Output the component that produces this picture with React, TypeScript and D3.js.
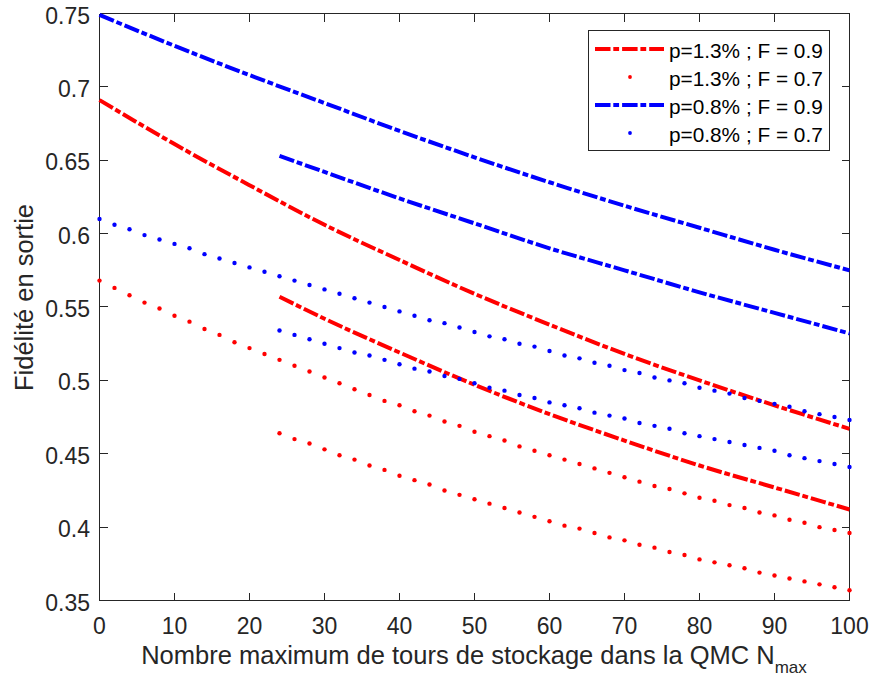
import React from 'react';
import * as d3 from 'd3';

const W = 870;
const H = 684;

// x positions
const X_TICKS = [0, 10, 20, 30, 40, 50, 60, 70, 80, 90, 100];
const Y_TICKS = [0.35, 0.4, 0.45, 0.5, 0.55, 0.6, 0.65, 0.7, 0.75];
const Y_TICK_LABELS = ['0.35', '0.4', '0.45', '0.5', '0.55', '0.6', '0.65', '0.7', '0.75'];

const X_LINE_A = [0, 10, 20, 30, 40, 50, 60, 70, 80, 90, 100];
const X_LINE_B = [24, 30, 40, 50, 60, 70, 80, 90, 100];
const X_DOT_A = [0, 2, 4, 6, 8, 10, 12, 14, 16, 18, 20, 22, 24, 26, 28, 30, 32, 34, 36, 38, 40, 42, 44, 46, 48, 50,
  52, 54, 56, 58, 60, 62, 64, 66, 68, 70, 72, 74, 76, 78, 80, 82, 84, 86, 88, 90, 92, 94, 96, 98, 100];
const X_DOT_B = [24, 26, 28, 30, 32, 34, 36, 38, 40, 42, 44, 46, 48, 50, 52, 54, 56, 58, 60, 62, 64, 66, 68, 70,
  72, 74, 76, 78, 80, 82, 84, 86, 88, 90, 92, 94, 96, 98, 100];

// p=1.3% ; F = 0.9 (dash-dot, red)
const RED_F09_A = [0.691, 0.661, 0.633, 0.606, 0.582, 0.559, 0.538, 0.518, 0.500, 0.483, 0.467];
const RED_F09_B = [0.557, 0.542, 0.519, 0.497, 0.477, 0.459, 0.442, 0.427, 0.412];
// p=1.3% ; F = 0.7 (dotted, red)
const RED_F07_A = [0.568, 0.563, 0.558, 0.553, 0.549, 0.544, 0.540, 0.535, 0.531, 0.526, 0.522, 0.518, 0.514, 0.510,
  0.506, 0.502, 0.498, 0.494, 0.490, 0.486, 0.483, 0.479, 0.476, 0.472, 0.469, 0.465, 0.462, 0.459, 0.455, 0.452,
  0.449, 0.446, 0.443, 0.440, 0.437, 0.434, 0.431, 0.428, 0.426, 0.423, 0.420, 0.418, 0.415, 0.413, 0.410, 0.408,
  0.405, 0.403, 0.400, 0.398, 0.396];
const RED_F07_B = [0.464, 0.460, 0.457, 0.453, 0.449, 0.446, 0.442, 0.439, 0.435, 0.432, 0.429, 0.425, 0.422, 0.419,
  0.416, 0.413, 0.410, 0.407, 0.404, 0.401, 0.399, 0.396, 0.393, 0.391, 0.388, 0.386, 0.383, 0.381, 0.378, 0.376,
  0.374, 0.372, 0.369, 0.367, 0.365, 0.363, 0.361, 0.359, 0.357];
// p=0.8% ; F = 0.9 (dash-dot, blue)
const BLUE_F09_A = [0.749, 0.728, 0.708, 0.689, 0.670, 0.652, 0.635, 0.619, 0.604, 0.589, 0.575];
const BLUE_F09_B = [0.653, 0.642, 0.624, 0.607, 0.590, 0.575, 0.560, 0.546, 0.532];
// p=0.8% ; F = 0.7 (dotted, blue)
const BLUE_F07_A = [0.610, 0.606, 0.603, 0.599, 0.596, 0.593, 0.590, 0.586, 0.583, 0.580, 0.577, 0.574, 0.571, 0.568,
  0.565, 0.562, 0.559, 0.556, 0.553, 0.550, 0.547, 0.544, 0.541, 0.539, 0.536, 0.533, 0.530, 0.528, 0.525, 0.523,
  0.520, 0.517, 0.515, 0.512, 0.510, 0.507, 0.505, 0.502, 0.500, 0.498, 0.495, 0.493, 0.491, 0.488, 0.486, 0.484,
  0.482, 0.479, 0.477, 0.475, 0.473];
const BLUE_F07_B = [0.534, 0.531, 0.528, 0.525, 0.522, 0.519, 0.517, 0.514, 0.511, 0.508, 0.506, 0.503, 0.501, 0.498,
  0.495, 0.493, 0.490, 0.488, 0.485, 0.483, 0.481, 0.478, 0.476, 0.474, 0.471, 0.469, 0.467, 0.464, 0.462, 0.460,
  0.458, 0.456, 0.454, 0.452, 0.449, 0.447, 0.445, 0.443, 0.441];

const LEGEND_LABELS = ['p=1.3% ; F = 0.9', 'p=1.3% ; F = 0.7', 'p=0.8% ; F = 0.9', 'p=0.8% ; F = 0.7'];

const RED = '#ff0000';
const BLUE = '#0000ff';
const AX = '#262626';
const FONT = "'Liberation Sans', Arial, Helvetica, sans-serif";
const DASHDOT = '15.5 2.8 5.8 3';

export default function App() {
  const x = d3.scaleLinear().domain([0, 100]).range([99.5, 849.5]);
  const y = d3.scaleLinear().domain([0.35, 0.75]).range([600.5, 13.5]);
  const line = d3
    .line<[number, number]>()
    .x((d) => x(d[0]))
    .y((d) => y(d[1]))
    .curve(d3.curveMonotoneX);
  const zip = (xs: number[], ys: number[]) => xs.map((v, i) => [v, ys[i]] as [number, number]);
  const crisp = (v: number) => Math.round(v - 0.5) + 0.5;

  const lines = [
    { xs: X_LINE_A, ys: RED_F09_A, c: RED },
    { xs: X_LINE_B, ys: RED_F09_B, c: RED },
    { xs: X_LINE_A, ys: BLUE_F09_A, c: BLUE },
    { xs: X_LINE_B, ys: BLUE_F09_B, c: BLUE },
  ];
  const dots = [
    { xs: X_DOT_A, ys: RED_F07_A, c: RED },
    { xs: X_DOT_B, ys: RED_F07_B, c: RED },
    { xs: X_DOT_A, ys: BLUE_F07_A, c: BLUE },
    { xs: X_DOT_B, ys: BLUE_F07_B, c: BLUE },
  ];
  const [x0, x1] = x.range();
  const [yb, yt] = y.range();

  const legendRows = [
    { type: 'line', c: RED },
    { type: 'dot', c: RED },
    { type: 'line', c: BLUE },
    { type: 'dot', c: BLUE },
  ];

  return (
    <svg width={W} height={H} style={{ position: 'absolute', left: 0, top: 0, background: '#fff' }} fontFamily={FONT}>
      <rect x={0} y={0} width={W} height={H} fill="#fff" />
      {/* axes box */}
      <g stroke={AX} strokeWidth={1} shapeRendering="crispEdges" fill="none">
        <line x1={x0} x2={x1} y1={yb} y2={yb} />
        <line x1={x0} x2={x1} y1={yt} y2={yt} />
        <line x1={x0} x2={x0} y1={yt} y2={yb} />
        <line x1={x1} x2={x1} y1={yt} y2={yb} />
        {X_TICKS.map((t) => (
          <g key={'xt' + t}>
            <line x1={crisp(x(t))} x2={crisp(x(t))} y1={yb} y2={yb - 8} />
            <line x1={crisp(x(t))} x2={crisp(x(t))} y1={yt} y2={yt + 8} />
          </g>
        ))}
        {Y_TICKS.map((t) => (
          <g key={'yt' + t}>
            <line x1={x0} x2={x0 + 8} y1={crisp(y(t))} y2={crisp(y(t))} />
            <line x1={x1} x2={x1 - 8} y1={crisp(y(t))} y2={crisp(y(t))} />
          </g>
        ))}
      </g>
      {/* tick labels */}
      <g fill={AX} fontSize={23}>
        {X_TICKS.map((t) => (
          <text key={'xl' + t} x={x(t)} y={634} textAnchor="middle">
            {t}
          </text>
        ))}
        {Y_TICKS.map((t, i) => (
          <text key={'yl' + t} x={90} y={y(t) + 2} textAnchor="end" dominantBaseline="central">
            {Y_TICK_LABELS[i]}
          </text>
        ))}
      </g>
      {/* axis labels */}
      <text x={474} y={664} textAnchor="middle" fill={AX} fontSize={25.5}>
        Nombre maximum de tours de stockage dans la QMC N
        <tspan fontSize={17} dy={9}>max</tspan>
      </text>
      <text transform="translate(33,297.5) rotate(-90)" textAnchor="middle" fill={AX} fontSize={25.5}>
        Fidélité en sortie
      </text>
      {/* series */}
      {lines.map((s, i) => (
        <path
          key={'l' + i}
          d={line(zip(s.xs, s.ys)) || ''}
          fill="none"
          stroke={s.c}
          strokeWidth={4}
          strokeDasharray={DASHDOT}
        />
      ))}
      {dots.map((s, i) => (
        <g key={'d' + i} fill={s.c}>
          {s.xs.map((v, j) => (
            <circle key={j} cx={x(v)} cy={y(s.ys[j])} r={2.2} />
          ))}
        </g>
      ))}
      {/* legend */}
      <g>
        <rect x={588.5} y={30.5} width={241} height={120} fill="#fff" stroke={AX} strokeWidth={1} shapeRendering="crispEdges" />
        {legendRows.map((r, i) => {
          const cy = 49 + i * 28;
          return (
            <g key={'lg' + i}>
              {r.type === 'line' ? (
                <line x1={595} x2={664} y1={cy} y2={cy} stroke={r.c} strokeWidth={4} strokeDasharray={DASHDOT} />
              ) : (
                <circle cx={630} cy={cy} r={1.9} fill={r.c} />
              )}
              <text x={669} y={cy + 1} dominantBaseline="central" fontSize={20.8} fill="#000">
                {LEGEND_LABELS[i]}
              </text>
            </g>
          );
        })}
      </g>
    </svg>
  );
}
